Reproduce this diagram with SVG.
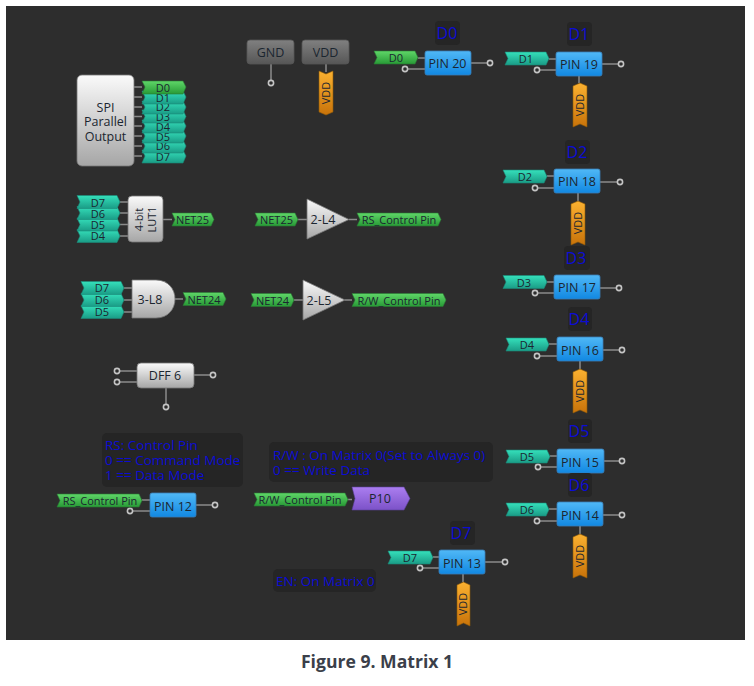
<svg xmlns="http://www.w3.org/2000/svg" width="754" height="686" viewBox="0 0 754 686">
<style>
text{font-family:"Open Sans","Noto Sans","Liberation Sans",sans-serif;font-size:12.500px;fill:#1b2630;text-anchor:middle}
.grn{fill:url(#gGreen);stroke:#2a7a34;stroke-width:.6}
.teal{fill:url(#gTeal);stroke:#1b8a78;stroke-width:.6}
.org{fill:url(#gOrange);stroke:#8f5a08;stroke-width:.6}
.pin{fill:url(#gBlue);stroke:#3a7fb8;stroke-width:.8}
.blk{fill:url(#gGrey);stroke:#777;stroke-width:.8}
.pow{fill:url(#gDark);stroke:#555;stroke-width:.8}
.note{fill:#252525}
text.nt{fill:#0c0cd4;text-anchor:start;font-size:13.500px}
text.nc{fill:#0c0cd4;font-size:16px}
.wire{stroke:#8a8a8a;stroke-width:1.5;fill:none}
.ring{fill:#2d2d2d;stroke:#c4c4c4;stroke-width:1.6}
text.sm{font-size:11px}
</style>
<defs>
<linearGradient id="gGreen" x1="0" y1="0" x2="0" y2="1"><stop offset="0" stop-color="#5fd668"/><stop offset="1" stop-color="#289a36"/></linearGradient>
<linearGradient id="gTeal" x1="0" y1="0" x2="0" y2="1"><stop offset="0" stop-color="#35e0bb"/><stop offset="1" stop-color="#1a9c86"/></linearGradient>
<linearGradient id="gOrange" x1="0" y1="0" x2="0" y2="1"><stop offset="0" stop-color="#fbb130"/><stop offset="1" stop-color="#c8730a"/></linearGradient>
<linearGradient id="gBlue" x1="0" y1="0" x2="0" y2="1"><stop offset="0" stop-color="#50b8f6"/><stop offset="1" stop-color="#1188e2"/></linearGradient>
<linearGradient id="gGrey" x1="0" y1="0" x2="0" y2="1"><stop offset="0" stop-color="#fafafa"/><stop offset="1" stop-color="#a6a6a6"/></linearGradient>
<linearGradient id="gDark" x1="0" y1="0" x2="0" y2="1"><stop offset="0" stop-color="#808080"/><stop offset="1" stop-color="#565656"/></linearGradient>
<linearGradient id="gViolet" x1="0" y1="0" x2="0" y2="1"><stop offset="0" stop-color="#ab7ef0"/><stop offset="1" stop-color="#7c52c8"/></linearGradient>
</defs>
<rect width="754" height="686" fill="#fff"/>
<rect x="6" y="6" width="739" height="634" fill="#2d2d2d"/>

<!-- wires and open terminals -->
<g id="connectors">
<path class="wire" d="M271 64V81M326 64V72"/>
<circle class="ring" cx="271" cy="83" r="2.6"/>
<path class="wire" d="M134 87h8M134 97h8M134 107h8M134 116.500h8M134 126h8M134 136h8M134 146h8M134 156h8"/>
<path class="wire" d="M120 202h8M120 213h8M120 224.500h8M120 236h8M163 219.500h9"/>
<path class="wire" d="M124 288h8M124 300h8M124 312h8M175 299h8"/>
<path class="wire" d="M298 219.500h9M349 219.500h8M294 300h9M345 300h7"/>
<path class="wire" d="M119.500 371H137M119.500 382H137M194 375h17M166 388v17"/>
<circle class="ring" cx="117" cy="371" r="2.6"/><circle class="ring" cx="117" cy="382" r="2.6"/><circle class="ring" cx="213" cy="375" r="2.6"/><circle class="ring" cx="166" cy="407" r="2.6"/>
<path class="wire" d="M418 58h7M408 69h17M471 63h17"/>
<circle class="ring" cx="405" cy="69" r="2.6"/><circle class="ring" cx="490" cy="63" r="2.6"/>
<path class="wire" d="M549 59h7M540 70h16M602 64h17M579 76v7"/>
<circle class="ring" cx="537" cy="70" r="2.6"/><circle class="ring" cx="621" cy="64" r="2.6"/>
<path class="wire" d="M547 176h7M538 188h16M600 182h18M578 193v8"/>
<circle class="ring" cx="535" cy="188" r="2.6"/><circle class="ring" cx="620" cy="182" r="2.6"/>
<path class="wire" d="M547 282h7M538 293h16M600 288h17"/>
<circle class="ring" cx="535" cy="293" r="2.6"/><circle class="ring" cx="619" cy="288" r="2.6"/>
<path class="wire" d="M549 344h8M540 356h17M603 350h17M580 361v8"/>
<circle class="ring" cx="537" cy="356" r="2.6"/><circle class="ring" cx="622" cy="350" r="2.6"/>
<path class="wire" d="M550 456h7M541 467h16M604 461h16"/>
<circle class="ring" cx="538" cy="467" r="2.6"/><circle class="ring" cx="622" cy="461" r="2.6"/>
<path class="wire" d="M549 509h8M540 521h17M603 515h17M580 526v8"/>
<circle class="ring" cx="537" cy="521" r="2.6"/><circle class="ring" cx="622" cy="515" r="2.6"/>
<path class="wire" d="M433 557h6M423 568h16M485 562h18M463 574v8"/>
<circle class="ring" cx="420" cy="568" r="2.6"/><circle class="ring" cx="505" cy="562" r="2.6"/>
<path class="wire" d="M142 500h8M133 511h17M196 505h17M348 499.500h4"/>
<circle class="ring" cx="130" cy="511" r="2.6"/><circle class="ring" cx="215" cy="505" r="2.6"/>
</g>

<!-- power rails -->
<g id="gnd"><rect class="pow" x="247" y="40" width="47" height="24" rx="3"/><text x="270.500" y="57">GND</text></g>
<g id="vdd"><rect class="pow" x="302" y="40" width="47" height="24" rx="3"/><text x="325.500" y="57">VDD</text>
<polygon class="org" points="319,71 326,74 333,71 333,112 326,115 319,112"/><text transform="translate(330 93) rotate(-90)" class="sm">VDD</text></g>

<!-- SPI block with its parallel outputs -->
<g id="spi"><rect class="blk" x="77" y="75" width="57" height="91" rx="5"/><text x="105.500" y="112">SPI</text><text x="105.500" y="126">Parallel</text><text x="105.500" y="141">Output</text></g>
<g id="spi-outputs">
<polygon class="teal" points="142,150 183,150 186,156 183,163 142,163 145,156"/><text x="163" y="160.500" class="sm">D7</text>
<polygon class="teal" points="142,140 183,140 186,146 183,153 142,153 145,146"/><text x="163" y="150" class="sm">D6</text>
<polygon class="teal" points="142,130 183,130 186,136 183,143 142,143 145,136"/><text x="163" y="140.500" class="sm">D5</text>
<polygon class="teal" points="142,120 183,120 186,126 183,133 142,133 145,126"/><text x="163" y="131" class="sm">D4</text>
<polygon class="teal" points="142,110 183,110 186,116.500 183,123 142,123 145,116.500"/><text x="163" y="121" class="sm">D3</text>
<polygon class="teal" points="142,101 183,101 186,107 183,114 142,114 145,107"/><text x="163" y="111" class="sm">D2</text>
<polygon class="teal" points="142,91 183,91 186,97 183,104 142,104 145,97"/><text x="163" y="102" class="sm">D1</text>
<polygon class="grn" points="142,81 183,81 186,87 183,94 142,94 145,87"/><text x="163" y="92" class="sm">D0</text>
</g>

<!-- 4-bit LUT -->
<g id="lut1"><rect class="blk" x="128" y="196" width="35" height="46" rx="4"/><text transform="translate(143 219.500) rotate(-90)" class="sm">4-bit</text><text transform="translate(156 219.500) rotate(-90)" class="sm">LUT1</text></g>
<g id="lut1-inputs">
<polygon class="teal" points="77,229.500 117,229.500 120,236 117,242.500 77,242.500 80,236"/><text x="98" y="240" class="sm">D4</text>
<polygon class="teal" points="77,218 117,218 120,224.500 117,231 77,231 80,224.500"/><text x="98" y="229" class="sm">D5</text>
<polygon class="teal" points="77,206.500 117,206.500 120,213 117,219.500 77,219.500 80,213"/><text x="98" y="218" class="sm">D6</text>
<polygon class="teal" points="77,195.500 117,195.500 120,202 117,208.500 77,208.500 80,202"/><text x="98" y="207" class="sm">D7</text>
</g>
<g id="net25-out"><polygon class="grn" points="172,213 211,213 214,219.500 211,226 172,226 175,219.500"/><text x="192.500" y="224" class="sm">NET25</text></g>

<!-- 3-input AND -->
<g id="and-3-l8"><path class="blk" d="M132 280H156C168 280 175 289 175 299C175 309 168 318 156 318H132Z"/><text x="150" y="304">3-L8</text></g>
<g id="and-inputs">
<polygon class="teal" points="81,305.500 121,305.500 124,312 121,318.500 81,318.500 84,312"/><text x="102" y="316" class="sm">D5</text>
<polygon class="teal" points="81,293.500 121,293.500 124,300 121,306.500 81,306.500 84,300"/><text x="102" y="304" class="sm">D6</text>
<polygon class="teal" points="81,281.500 121,281.500 124,288 121,294.500 81,294.500 84,288"/><text x="102" y="292" class="sm">D7</text>
</g>
<g id="net24-out"><polygon class="grn" points="183,292.500 223,292.500 226,299 223,305.500 183,305.500 186,299"/><text x="204" y="303.500" class="sm">NET24</text></g>

<!-- buffers -->
<g id="net25-in"><polygon class="grn" points="255,213 295,213 298,219.500 295,226 255,226 258,219.500"/><text x="276.500" y="224" class="sm">NET25</text></g>
<g id="l4"><polygon class="blk" points="307,199 349,219.500 307,239"/><text x="323" y="224">2-L4</text></g>
<g id="rs-out"><polygon class="grn" points="357,213 438,213 441,219.500 438,226 357,226 360,219.500"/><text x="399" y="224" class="sm">RS_Control Pin</text></g>
<g id="net24-in"><polygon class="grn" points="251,293.500 291,293.500 294,300 291,306.500 251,306.500 254,300"/><text x="272.500" y="304.500" class="sm">NET24</text></g>
<g id="l5"><polygon class="blk" points="303,280 345,300 303,320"/><text x="319" y="305">2-L5</text></g>
<g id="rw-out"><polygon class="grn" points="352,293.500 443,293.500 446,300 443,306.500 352,306.500 355,300"/><text x="399" y="304.500" class="sm">R/W_Control Pin</text></g>

<!-- flip-flop -->
<g id="dff6"><rect class="blk" x="137" y="363" width="57" height="25" rx="4"/><text x="165" y="380">DFF 6</text></g>

<!-- output pins -->
<g id="pin20">
<rect class="note" x="435" y="21" width="25" height="24" rx="4"/><text class="nc" x="447" y="39">D0</text>
<polygon class="grn" points="374,51 415,51 418,57.500 415,64 374,64 377,57.500"/><text x="396" y="62" class="sm">D0</text>
<rect class="pin" x="425" y="51" width="46" height="24" rx="2"/><text x="447.500" y="68">PIN 20</text></g>
<g id="pin19">
<rect class="note" x="567" y="22" width="25" height="24" rx="4"/><text class="nc" x="579" y="40">D1</text>
<polygon class="teal" points="505,52 546,52 549,58.500 546,65 505,65 508,58.500"/><text x="526" y="63" class="sm">D1</text>
<rect class="pin" x="556" y="52" width="46" height="24" rx="2"/><text x="579" y="69">PIN 19</text>
<polygon class="org" points="573,86 580,83 587,86 587,127 580,124 573,127"/><text transform="translate(584 105) rotate(-90)" class="sm">VDD</text></g>
<g id="pin18">
<rect class="note" x="565" y="140" width="25" height="24" rx="4"/><text class="nc" x="577" y="158">D2</text>
<polygon class="teal" points="503,170 544,170 547,176.500 544,183 503,183 506,176.500"/><text x="525" y="181" class="sm">D2</text>
<rect class="pin" x="554" y="169" width="46" height="24" rx="2"/><text x="577" y="186">PIN 18</text>
<polygon class="org" points="571,204 578,201 585,204 585,245 578,242 571,245"/><text transform="translate(582 223) rotate(-90)" class="sm">VDD</text></g>
<g id="pin17">
<rect class="note" x="564" y="246" width="26" height="24" rx="4"/><text class="nc" x="576" y="264">D3</text>
<polygon class="teal" points="503,275.500 544,275.500 547,282 544,288.500 503,288.500 506,282"/><text x="524" y="287" class="sm">D3</text>
<rect class="pin" x="554" y="275" width="46" height="24" rx="2"/><text x="577" y="292">PIN 17</text></g>
<g id="pin16">
<rect class="note" x="568" y="307" width="24" height="24" rx="4"/><text class="nc" x="579" y="325">D4</text>
<polygon class="teal" points="506,338 546,338 549,344.500 546,351 506,351 509,344.500"/><text x="527" y="349" class="sm">D4</text>
<rect class="pin" x="557" y="337" width="46" height="24" rx="2"/><text x="580" y="355">PIN 16</text>
<polygon class="org" points="573,372 580,369 587,372 587,413 580,410 573,413"/><text transform="translate(584 391) rotate(-90)" class="sm">VDD</text></g>
<g id="pin15">
<rect class="note" x="568" y="419" width="24" height="24" rx="4"/><text class="nc" x="579" y="437">D5</text>
<polygon class="teal" points="506,450 547,450 550,456.500 547,463 506,463 509,456.500"/><text x="527" y="461" class="sm">D5</text>
<rect class="pin" x="557" y="449" width="47" height="24" rx="2"/><text x="580" y="467">PIN 15</text></g>
<g id="pin14">
<rect class="note" x="568" y="473" width="24" height="24" rx="4"/><text class="nc" x="579" y="491">D6</text>
<polygon class="teal" points="506,503 546,503 549,509.500 546,516 506,516 509,509.500"/><text x="527" y="514" class="sm">D6</text>
<rect class="pin" x="557" y="502" width="46" height="24" rx="2"/><text x="580" y="520">PIN 14</text>
<polygon class="org" points="573,537 580,534 587,537 587,578 580,575 573,578"/><text transform="translate(584 556) rotate(-90)" class="sm">VDD</text></g>
<g id="pin13">
<rect class="note" x="450" y="521" width="25" height="24" rx="4"/><text class="nc" x="461" y="539">D7</text>
<polygon class="teal" points="388,551 430,551 433,557.500 430,564 388,564 391,557.500"/><text x="410" y="562" class="sm">D7</text>
<rect class="pin" x="439" y="550" width="46" height="24" rx="2"/><text x="462" y="568">PIN 13</text>
<polygon class="org" points="457,585 463.500,582 470,585 470,626 463.500,623 457,626"/><text transform="translate(467 604) rotate(-90)" class="sm">VDD</text></g>
<g id="pin12">
<polygon class="grn" points="57,494 139,494 142,500.500 139,507 57,507 60,500.500"/><text x="100" y="505" class="sm">RS_Control Pin</text>
<rect class="pin" x="150" y="493" width="46" height="24" rx="2"/><text x="173" y="511">PIN 12</text></g>
<g id="p10">
<polygon class="grn" points="254,493 345,493 348,499.500 345,506 254,506 257,499.500"/><text x="300" y="504" class="sm">R/W_Control Pin</text>
<polygon points="352,487 404,487 410,498.500 404,510 352,510 355,498.500" fill="url(#gViolet)" stroke="#5d3f9a" stroke-width=".6"/><text x="380" y="503">P10</text></g>

<!-- design notes -->
<g id="note-rs"><rect class="note" x="102" y="433" width="141" height="54" rx="5"/><text class="nt" x="105" y="450">RS: Control Pin</text><text class="nt" x="105" y="465">0 == Command Mode</text><text class="nt" x="105" y="480">1 == Data Mode</text></g>
<g id="note-rw"><rect class="note" x="269" y="442" width="224" height="40" rx="5"/><text class="nt" x="273" y="460">R/W : On Matrix 0(Set to Always 0)</text><text class="nt" x="273" y="475">0 == Write Data</text></g>
<g id="note-en"><rect class="note" x="273" y="569" width="103" height="23" rx="5"/><text class="nt" x="276" y="586">EN: On Matrix 0</text></g>

<text x="377" y="668" style="font-size:17.600px;font-weight:700;fill:#3b3f4a">Figure 9. Matrix 1</text>
</svg>
